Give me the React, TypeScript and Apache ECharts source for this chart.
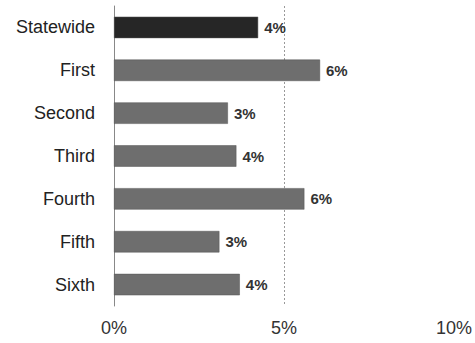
import React, { useEffect, useRef } from "react";
import * as echarts from "echarts";

const categories = ["Statewide", "First", "Second", "Third", "Fourth", "Fifth", "Sixth"];
const values = [4.24, 6.06, 3.35, 3.6, 5.6, 3.1, 3.7];
const xTicks = [0, 5, 10];

export default function App() {
  const ref = useRef<HTMLDivElement>(null);
  useEffect(() => {
    if (!ref.current) return;
    const chart = echarts.init(ref.current, undefined, { renderer: "svg" });
    chart.setOption({
      animation: false,
      backgroundColor: "#ffffff",
      grid: { left: 114, right: 21, top: 6, bottom: 37, containLabel: false },
      xAxis: {
        type: "value",
        min: xTicks[0],
        max: xTicks[xTicks.length - 1],
        interval: 5,
        axisLine: { show: false },
        axisTick: { show: false },
        axisLabel: {
          formatter: (v: number) => `${v}%`,
          fontFamily: "Liberation Sans, Arial, sans-serif",
          fontSize: 18,
          color: "#333",
          margin: 13,
        },
        splitLine: {
          show: true,
          showMinLine: false,
          showMaxLine: false,
          lineStyle: { color: "#999", type: [2, 2], width: 1 },
        },
      },
      yAxis: {
        type: "category",
        data: categories,
        inverse: true,
        axisLine: { show: true, lineStyle: { color: "#888", width: 1 } },
        axisTick: { show: false },
        axisLabel: {
          fontFamily: "Liberation Sans, Arial, sans-serif",
          fontSize: 18,
          color: "#222",
          margin: 19,
        },
      },
      series: [
        {
          type: "bar",
          data: values.map((v, i) => ({
            value: v,
            itemStyle: { color: i === 0 ? "#262626" : "#6e6e6e" },
          })),
          barWidth: "50%",
          itemStyle: { borderColor: "#555", borderWidth: 0.5 },
          label: {
            show: true,
            position: "right",
            distance: 6,
            formatter: (p: any) => `${Math.round(p.value)}%`,
            fontFamily: "Liberation Sans, Arial, sans-serif",
            fontSize: 15,
            fontWeight: "bold",
            color: "#333",
          },
        },
      ],
    });
    return () => chart.dispose();
  }, []);
  return <div ref={ref} style={{ width: 475, height: 343, position: "absolute", left: 0, top: 0 }} />;
}
